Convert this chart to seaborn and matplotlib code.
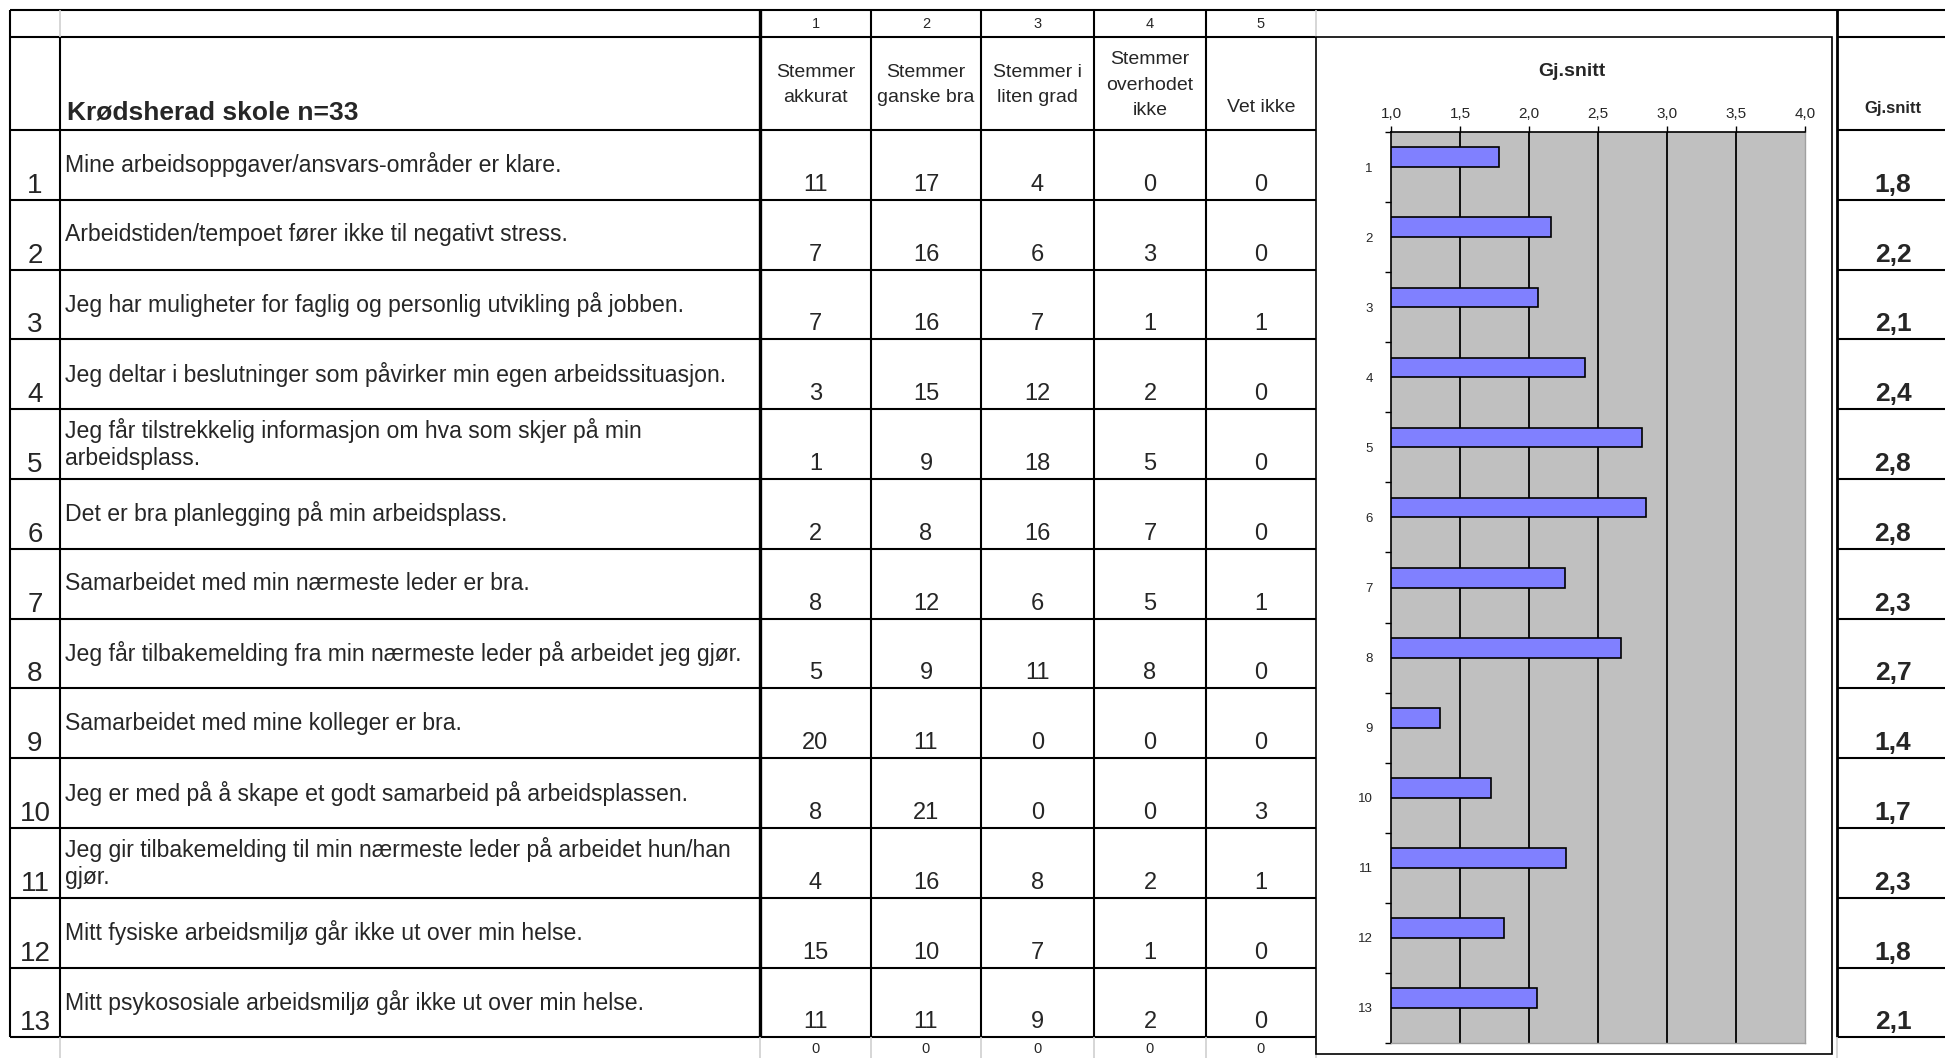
import numpy as np
import pandas as pd
import matplotlib
matplotlib.use("Agg")
import matplotlib.pyplot as plt
from matplotlib.patches import Rectangle
import seaborn as sns

# --- data ---
skole = "Krødsherad skole n=33"
kolonne_nr = ["1", "2", "3", "4", "5"]
kolonner = ["Stemmer\nakkurat", "Stemmer\nganske bra", "Stemmer i\nliten grad",
            "Stemmer\noverhodet\nikke", "Vet ikke"]
nr = [str(i) for i in range(1, 14)]
sporsmal = [
    "Mine arbeidsoppgaver/ansvars-områder er klare.",
    "Arbeidstiden/tempoet fører ikke til negativt stress.",
    "Jeg har muligheter for faglig og personlig utvikling på jobben.",
    "Jeg deltar i beslutninger som påvirker min egen arbeidssituasjon.",
    "Jeg får tilstrekkelig informasjon om hva som skjer på min\narbeidsplass.",
    "Det er bra planlegging på min arbeidsplass.",
    "Samarbeidet med min nærmeste leder er bra.",
    "Jeg får tilbakemelding fra min nærmeste leder på arbeidet jeg gjør.",
    "Samarbeidet med mine kolleger er bra.",
    "Jeg er med på å skape et godt samarbeid på arbeidsplassen.",
    "Jeg gir tilbakemelding til min nærmeste leder på arbeidet hun/han\ngjør.",
    "Mitt fysiske arbeidsmiljø går ikke ut over min helse.",
    "Mitt psykososiale arbeidsmiljø går ikke ut over min helse.",
]
akkurat = [11, 7, 7, 3, 1, 2, 8, 5, 20, 8, 4, 15, 11]
ganske_bra = [17, 16, 16, 15, 9, 8, 12, 9, 11, 21, 16, 10, 11]
liten_grad = [4, 6, 7, 12, 18, 16, 6, 11, 0, 0, 8, 7, 9]
overhodet_ikke = [0, 3, 1, 2, 5, 7, 5, 8, 0, 0, 2, 1, 2]
vet_ikke = [0, 0, 1, 0, 0, 0, 1, 0, 0, 3, 1, 0, 0]
sum_rad = [0, 0, 0, 0, 0]
gj_snitt = [1.781, 2.156, 2.065, 2.406, 2.818, 2.848, 2.258, 2.667,
            1.355, 1.724, 2.267, 1.818, 2.061]
akse_ticks = [1.0, 1.5, 2.0, 2.5, 3.0, 3.5, 4.0]

sns.set_theme(style="white")
plt.rcParams["font.family"] = ["Liberation Sans", "DejaVu Sans"]

W, H = 1945, 1058
fig = plt.figure(figsize=(W / 100, H / 100), dpi=100)
fig.patch.set_facecolor("white")

# background axes in pixel units for the spreadsheet grid
bg = fig.add_axes([0, 0, 1, 1])
bg.set_xlim(0, W)
bg.set_ylim(H, 0)
bg.axis("off")

x_left, x_nr = 10, 60
col_x = [760, 871, 981, 1094, 1206, 1316]
x_box0, x_box1 = 1316, 1832
x_gj = 1837
y_top, y_nums, y_head = 10, 37, 130
row_h = 69.8
rad_y = [y_head + i * row_h for i in range(len(nr) + 1)]
y_end = rad_y[-1]

svart = "black"
gra = "#cfcfcf"
lw = 1.5

# horizontal lines
bg.hlines(y_top, x_left, W, color=svart, lw=lw)
bg.hlines([y_nums] + rad_y, x_left, x_box0, color=svart, lw=lw)
bg.hlines([y_nums] + rad_y, x_gj, W, color=svart, lw=lw)
# vertical lines
bg.vlines(x_left, y_top, y_end, color=svart, lw=lw)
bg.vlines(x_nr, y_nums, y_end, color=svart, lw=lw)
bg.vlines([x_nr, x_box0], y_top, y_nums, color=gra, lw=1.2)
bg.vlines(col_x[0], y_top, y_end, color=svart, lw=2.4)
bg.vlines(col_x[1:-1], y_top, y_end, color=svart, lw=lw)
bg.vlines(x_gj, y_top, y_end, color=svart, lw=2.0)
bg.vlines([x_nr] + col_x + [x_gj], y_end, H, color=gra, lw=1.2)

# header texts
midt = [(col_x[j] + col_x[j + 1]) / 2 for j in range(len(kolonne_nr))]
for j, lab in enumerate(kolonne_nr):
    bg.text(midt[j], (y_top + y_nums) / 2 + 1, lab, ha="center", va="center", fontsize=10.5)
for j, lab in enumerate(kolonner):
    if "\n" in lab:
        bg.text(midt[j], 85, lab, ha="center", va="center", fontsize=14, linespacing=1.62)
    else:
        bg.text(midt[j], 107, lab, ha="center", va="center", fontsize=14)
bg.text(67, 119, skole, ha="left", va="baseline", fontsize=19, fontweight="bold")
bg.text(1893, 108, "Gj.snitt", ha="center", va="center", fontsize=12, fontweight="bold")

# rows
verdier = [akkurat, ganske_bra, liten_grad, overhodet_ikke, vet_ikke]
for i in range(len(nr)):
    y0, y1 = rad_y[i], rad_y[i + 1]
    bg.text(35, y1 - 7, nr[i], ha="center", va="baseline", fontsize=20)
    bg.text(65, (y0 + y1) / 2, sporsmal[i], ha="left", va="center", fontsize=16.6,
            linespacing=1.2)
    for j, serie in enumerate(verdier):
        bg.text(midt[j], y1 - 9, str(serie[i]), ha="center", va="baseline", fontsize=17)
    bg.text(1893, y1 - 8, f"{gj_snitt[i]:.1f}".replace(".", ","), ha="center",
            va="baseline", fontsize=19, fontweight="bold")

for j, v in enumerate(sum_rad):
    bg.text(midt[j], (y_end + H) / 2 + 1, str(v), ha="center", va="center", fontsize=10.5)

# chart frame
bg.add_patch(Rectangle((x_box0, y_nums), x_box1 - x_box0, 1054 - y_nums,
                       facecolor="white", edgecolor=svart, lw=1.2, zorder=5))
bg.text((x_box0 + x_box1) / 2 - 2, 71, "Gj.snitt", ha="center", va="center",
        fontsize=14, fontweight="bold", zorder=6)

# bar chart (second, empty series keeps Excel's clustered offset)
ax = fig.add_axes([1391 / W, 1 - 1043 / H, 414 / W, 911 / H], zorder=10)
df = pd.DataFrame({"nr": nr, "snitt": gj_snitt, "serie": "Gj.snitt"})
sns.barplot(data=df, x="snitt", y="nr", hue="serie", hue_order=["Gj.snitt", "tom"],
            palette={"Gj.snitt": "#8080ff", "tom": "#8080ff"}, width=0.56,
            dodge=True, saturation=1, errorbar=None, edgecolor="black",
            linewidth=1.2, legend=False, orient="h", ax=ax)
ax.set_facecolor("#c0c0c0")
ax.set_xlim(1, 4)
for v in akse_ticks[1:-1]:
    ax.axvline(v, color="black", lw=1.3, zorder=0.5)
ax.set_xticks(akse_ticks)
ax.set_xticklabels([f"{t:.1f}".replace(".", ",") for t in akse_ticks])
ax.xaxis.tick_top()
ax.tick_params(axis="x", top=True, bottom=False, length=4, width=1, color="black",
               labelsize=11, pad=4, direction="out")
ax.set_yticks(np.arange(-0.5, len(nr), 1), minor=True)
ax.tick_params(axis="y", which="major", left=True, length=0, labelsize=9.5, pad=13)
ax.tick_params(axis="y", which="minor", left=True, length=4, width=1, color="black",
               direction="out")
ax.set_xlabel("")
ax.set_ylabel("")
for s in ["left", "top"]:
    ax.spines[s].set_color("black")
    ax.spines[s].set_linewidth(1.2)
for s in ["right", "bottom"]:
    ax.spines[s].set_color("#a0a0a0")
    ax.spines[s].set_linewidth(1.0)

fig.savefig("out.png", dpi=100, facecolor="white")
